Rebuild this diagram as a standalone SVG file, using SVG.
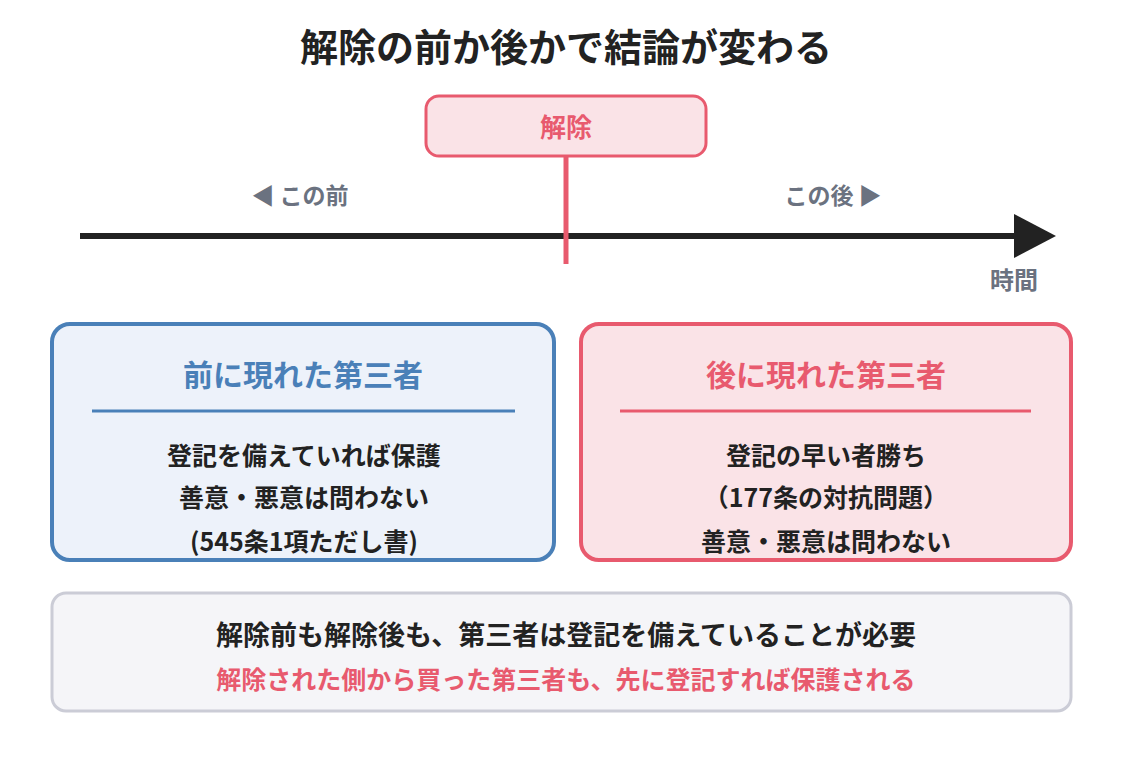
<svg xmlns="http://www.w3.org/2000/svg" width="1132" height="760" viewBox="0 0 1132 760">
<style>
text{font-family:"Noto Sans CJK JP","Noto Sans",sans-serif;font-weight:bold;text-anchor:middle;dominant-baseline:central}
.dark{fill:#222}
.pink{fill:#e85a6e}
.blue{fill:#4a80b8}
.gray{fill:#6b7280}
.body{font-size:25px}
.ttl{font-size:30px}
</style>
<rect width="1132" height="760" fill="#fff"/>
<g id="title"><text x="566" y="44" class="dark" font-size="38">解除の前か後かで結論が変わる</text></g>
<g id="connectors">
<line x1="80" y1="236" x2="1018" y2="236" stroke="#222" stroke-width="6"/>
<polygon points="1014,214 1056,236 1014,258" fill="#222"/>
<line x1="566" y1="157" x2="566" y2="264" stroke="#e85a6e" stroke-width="5"/>
</g>
<g id="event">
<rect x="426" y="96" width="280" height="60" rx="13" fill="#fae3e7" stroke="#e85a6e" stroke-width="3"/>
<text x="566" y="125" class="pink" font-size="26">解除</text>
</g>
<g id="labels">
<text x="300" y="194" class="gray" font-size="23">◀ この前</text>
<text x="833" y="194" class="gray" font-size="23">この後 ▶</text>
<text x="1014" y="278" class="gray" font-size="24">時間</text>
</g>
<g id="before">
<rect x="52" y="324" width="502" height="236" rx="18" fill="#edf2fa" stroke="#4a80b8" stroke-width="4"/>
<text x="303" y="373" class="blue ttl">前に現れた第三者</text>
<line x1="92" y1="411" x2="515" y2="411" stroke="#4a80b8" stroke-width="3"/>
<text x="304" y="454" class="dark body">登記を備えていれば保護</text>
<text x="304" y="496" class="dark body">善意・悪意は問わない</text>
<text x="304" y="540" class="dark body">(545条1項ただし書)</text>
</g>
<g id="after">
<rect x="581" y="324" width="490" height="236" rx="18" fill="#fae3e7" stroke="#e85a6e" stroke-width="4"/>
<text x="826" y="373" class="pink ttl">後に現れた第三者</text>
<line x1="620" y1="411" x2="1031" y2="411" stroke="#e85a6e" stroke-width="3"/>
<text x="826" y="454" class="dark body">登記の早い者勝ち</text>
<text x="826" y="496" class="dark body">（177条の対抗問題）</text>
<text x="826" y="540" class="dark body">善意・悪意は問わない</text>
</g>
<g id="summary">
<rect x="52" y="593" width="1019" height="118" rx="14" fill="#f5f5f8" stroke="#cbccd6" stroke-width="3"/>
<text x="566" y="633" class="dark" font-size="27">解除前も解除後も、第三者は登記を備えていることが必要</text>
<text x="566" y="678" class="pink" font-size="25">解除された側から買った第三者も、先に登記すれば保護される</text>
</g>
</svg>
